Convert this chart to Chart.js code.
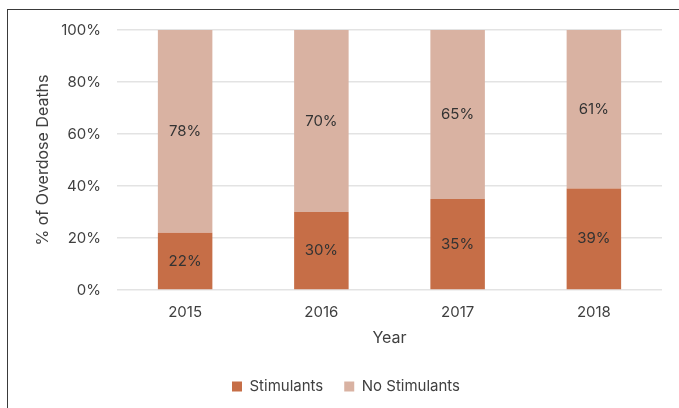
<!DOCTYPE html>
<html>
<head>
<meta charset="utf-8">
<script src="https://cdn.jsdelivr.net/npm/chart.js@4"></script>
<style>
    html, body { margin: 0; padding: 0; background: #fff; }
    #wrap { position: relative; width: 679px; height: 408px; overflow: hidden; }
    #frame { position: absolute; left: 7px; top: 9px; width: 700px; height: 430px; border: 1.5px solid #3a3a3a; box-sizing: border-box; pointer-events: none; }
</style>
</head>
<body>
<div id="wrap">
    <canvas id="chart" width="679" height="408"></canvas>
    <div id="frame"></div>
</div>
<script>
// --- data ---
const years = ['2015', '2016', '2017', '2018'];
const stimulants = [22, 30, 35, 39];
const noStimulants = [78, 70, 65, 61];
const yTicks = [0, 20, 40, 60, 80, 100];

const FONT = 'Inter, "Noto Sans", sans-serif';
const TEXT = '#404040';

// draws the % text in the middle of each bar segment
const barLabels = {
    id: 'barLabels',
    afterDatasetsDraw(chart) {
        const ctx = chart.ctx;
        ctx.save();
        ctx.font = '15px ' + FONT;
        ctx.fillStyle = '#333';
        ctx.textAlign = 'center';
        ctx.textBaseline = 'middle';
        chart.data.datasets.forEach((ds, i) => {
            chart.getDatasetMeta(i).data.forEach((bar, j) => {
                const mid = (bar.y + bar.base) / 2;
                ctx.fillText(ds.data[j] + '%', bar.x, mid);
            });
        });
        ctx.restore();
    }
};

new Chart(document.getElementById('chart'), {
    type: 'bar',
    data: {
        labels: years,
        datasets: [
            { label: 'Stimulants', data: stimulants, backgroundColor: '#C66E47' },
            { label: 'No Stimulants', data: noStimulants, backgroundColor: '#D9B2A2' }
        ]
    },
    options: {
        responsive: false,
        animation: false,
        events: [],
        layout: { padding: { left: 30, right: 17, top: 30, bottom: 4 } },
        datasets: { bar: { barPercentage: 0.4, categoryPercentage: 1 } },
        scales: {
            x: {
                stacked: true,
                grid: { display: false, drawTicks: false },
                border: { display: false },
                ticks: { color: TEXT, font: { family: FONT, size: 15 }, padding: 13 },
                title: { display: true, text: 'Year', color: TEXT, font: { family: FONT, size: 16 }, padding: { top: 4, bottom: 10 } },
                afterFit(scale) { scale.height = 68; }
            },
            y: {
                stacked: true,
                min: 0,
                max: 100,
                afterBuildTicks(scale) { scale.ticks = yTicks.map(v => ({ value: v })); },
                grid: { color: '#e3e3e3', lineWidth: 1.5, drawTicks: false },
                border: { display: false },
                ticks: { color: TEXT, font: { family: FONT, size: 15 }, padding: 16, callback: v => v + '%' },
                title: { display: true, text: '% of Overdose Deaths', color: TEXT, font: { family: FONT, size: 16 }, padding: { top: 4, bottom: 4 } },
                afterFit(scale) { scale.width = 87; }
            }
        },
        plugins: {
            legend: {
                position: 'bottom',
                labels: { color: TEXT, font: { family: FONT, size: 15 }, boxWidth: 10, boxHeight: 10, padding: 21 }
            },
            tooltip: { enabled: false }
        }
    },
    plugins: [barLabels]
});
</script>
</body>
</html>
